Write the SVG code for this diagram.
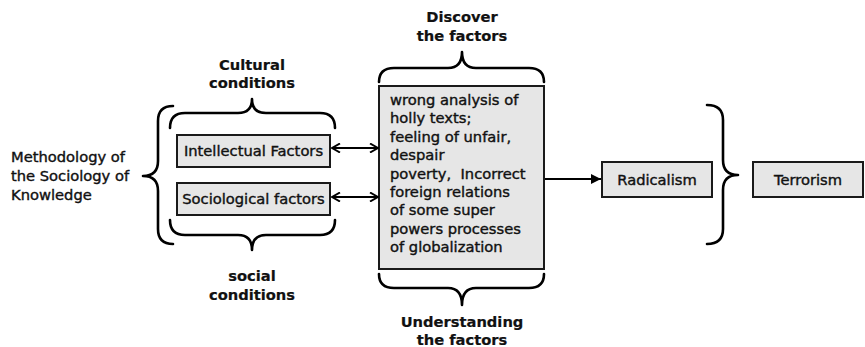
<svg xmlns="http://www.w3.org/2000/svg" width="865" height="347" viewBox="0 0 865 347">
<defs>
<style>
text{font-family:"DejaVu Sans","Liberation Sans",sans-serif;font-size:14.7px;fill:#111;stroke:#111;stroke-width:0.4}
.b{font-weight:bold;stroke-width:0.2}
.c{text-anchor:middle}
.box{fill:#e6e6e6;stroke:#1a1a1a;stroke-width:2}
.brace{fill:none;stroke:#000;stroke-width:2.6;stroke-linecap:round;stroke-linejoin:round}
.conn{fill:none;stroke:#000;stroke-width:2}
</style>
<marker id="v" viewBox="0 0 10 10" refX="9" refY="5" markerWidth="10" markerHeight="10" markerUnits="userSpaceOnUse" orient="auto-start-reverse">
<path d="M1,0.5 L9,5 L1,9.5" fill="none" stroke="#000" stroke-width="2"/>
</marker>
<marker id="t" viewBox="0 0 10 10" refX="10" refY="5" markerWidth="10" markerHeight="10" markerUnits="userSpaceOnUse" orient="auto">
<path d="M0,0 L10,5 L0,10 Z" fill="#000"/>
</marker>
</defs>
<rect width="865" height="347" fill="#fff"/>

<g id="methodology">
<path class="brace" d="M173,106 Q158,106 158,121 L158,161 Q158,176 143,176 Q158,176 158,191 L158,229 Q158,244 173,244"/>
<text x="11" y="162">Methodology of</text>
<text x="11" y="181">the Sociology of</text>
<text x="11" y="200">Knowledge</text>
</g>

<g id="cultural">
<path class="brace" d="M170,128 Q170,113 185,113 L238,113 Q252,113 252,99 Q252,113 266,113 L320,113 Q335,113 335,128"/>
<text class="b c" x="252" y="70">Cultural</text>
<text class="b c" x="252" y="88">conditions</text>
</g>

<g id="social">
<path class="brace" d="M170,220 Q170,235 185,235 L238,235 Q252,235 252,250 Q252,235 266,235 L320,235 Q335,235 335,220"/>
<text class="b c" x="252" y="281">social</text>
<text class="b c" x="252" y="300">conditions</text>
</g>

<g id="intellectual">
<rect class="box" x="177" y="135" width="153" height="32"/>
<text class="c" x="253.5" y="156">Intellectual Factors</text>
</g>

<g id="sociological">
<rect class="box" x="177" y="183" width="153" height="32"/>
<text class="c" x="253.5" y="204">Sociological factors</text>
</g>

<g id="discover">
<path class="brace" d="M379,82 Q379,68 394,68 L448,68 Q462,68 462,52 Q462,68 476,68 L529,68 Q544,68 544,82"/>
<text class="b c" x="462" y="22">Discover</text>
<text class="b c" x="462" y="41">the factors</text>
</g>

<g id="factors">
<rect class="box" x="379" y="86" width="165" height="183"/>
<text x="390" y="105">wrong analysis of</text>
<text x="390" y="123.4">holly texts;</text>
<text x="390" y="141.8">feeling of unfair,</text>
<text x="390" y="160.2">despair</text>
<text x="390" y="178.6" xml:space="preserve">poverty,  Incorrect</text>
<text x="390" y="197">foreign relations</text>
<text x="390" y="215.4">of some super</text>
<text x="390" y="233.8">powers processes</text>
<text x="390" y="252.2">of globalization</text>
</g>

<g id="understanding">
<path class="brace" d="M379,274 Q379,288 394,288 L448,288 Q462,288 462,305 Q462,288 476,288 L529,288 Q544,288 544,274"/>
<text class="b c" x="462" y="327">Understanding</text>
<text class="b c" x="462" y="345">the factors</text>
</g>

<g id="radicalism">
<rect class="box" x="602" y="162" width="110" height="35"/>
<text class="c" x="657" y="184.5">Radicalism</text>
</g>

<g id="result-brace">
<path class="brace" d="M707,105 Q723,105 723,120 L723,160 Q723,175 738,175 Q723,175 723,190 L723,229 Q723,244 707,244"/>
</g>

<g id="terrorism">
<rect class="box" x="753" y="162" width="110" height="35"/>
<text class="c" x="808" y="184.5">Terrorism</text>
</g>

<g id="connectors">
<line class="conn" x1="332" y1="148" x2="378" y2="148" marker-start="url(#v)" marker-end="url(#v)"/>
<line class="conn" x1="332" y1="197" x2="378" y2="197" marker-start="url(#v)" marker-end="url(#v)"/>
<line class="conn" x1="545" y1="179" x2="601" y2="179" marker-end="url(#t)"/>
</g>
</svg>
